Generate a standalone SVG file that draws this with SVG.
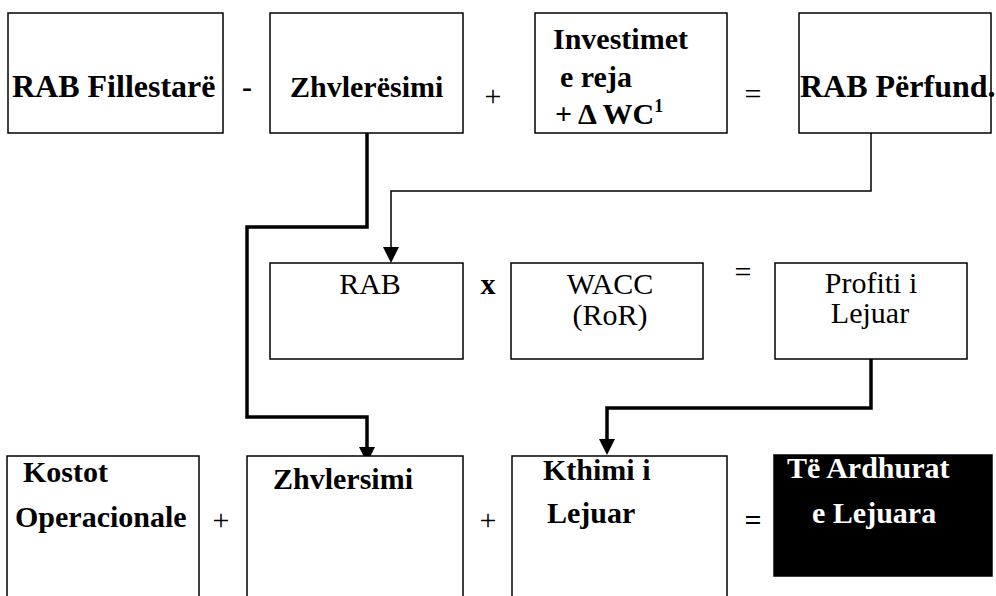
<svg xmlns="http://www.w3.org/2000/svg" width="996" height="596" viewBox="0 0 996 596">
<defs>
<style>
.box{fill:#fff;stroke:#000;stroke-width:1.5}
.blk{fill:#000;stroke:#000;stroke-width:1.5}
.b{font-family:"Liberation Serif","Times New Roman",serif;font-weight:bold;font-size:30px;fill:#000}
.r{font-family:"Liberation Serif","Times New Roman",serif;font-size:30px;fill:#000}
.w{fill:#fff}
.m{text-anchor:middle}
.thick{fill:none;stroke:#000;stroke-width:3.5}
.thin{fill:none;stroke:#000;stroke-width:1.5}
</style>
<marker id="ah" viewBox="0 0 16 16" refX="0" refY="8" markerWidth="16" markerHeight="16" markerUnits="userSpaceOnUse" orient="auto">
<path d="M0,0 L16,8 L0,16 z" fill="#000"/>
</marker>
</defs>

<g id="connectors">
<path class="thick" d="M367,133 V227 H247 V417 H367 V447" marker-end="url(#ah)"/>
<path class="thin" d="M871,133 V191 H391 V247" marker-end="url(#ah)"/>
<path class="thick" d="M871,359 V408 H607 V439" marker-end="url(#ah)"/>
</g>

<g id="rab-fillestare">
<rect class="box" x="8" y="13" width="215" height="120"/>
<text class="b" x="12" y="97" style="font-size:32px">RAB Fillestarë</text>
</g>
<text class="b m" x="247" y="97">-</text>
<g id="zhvleresimi-top">
<rect class="box" x="270" y="13" width="193" height="120"/>
<text class="b" x="290" y="97">Zhvlerësimi</text>
</g>
<text class="r m" x="493" y="106">+</text>
<g id="investimet">
<rect class="box" x="535" y="13" width="192" height="120"/>
<text class="b" x="553" y="49">Investimet</text>
<text class="b" x="560" y="87">e reja</text>
<text class="b" x="555" y="124">+ Δ WC<tspan font-size="18" dy="-12">1</tspan></text>
</g>
<text class="r m" x="753" y="104">=</text>
<g id="rab-perfund">
<rect class="box" x="799" y="13" width="192" height="120"/>
<text class="b" x="800" y="97" style="font-size:32px">RAB Përfund.</text>
</g>

<g id="rab">
<rect class="box" x="270" y="263" width="193" height="96"/>
<text class="r m" x="370" y="294">RAB</text>
</g>
<text class="b m" x="488" y="294">x</text>
<g id="wacc">
<rect class="box" x="511" y="263" width="192" height="96"/>
<text class="r m" x="610" y="294">WACC</text>
<text class="r m" x="610" y="325">(RoR)</text>
</g>
<text class="r m" x="743" y="282">=</text>
<g id="profiti">
<rect class="box" x="775" y="263" width="192" height="96"/>
<text class="r m" x="871" y="293">Profiti i</text>
<text class="r m" x="870" y="323">Lejuar</text>
</g>

<g id="kostot">
<rect class="box" x="7" y="456" width="192" height="150"/>
<text class="b" x="23" y="482">Kostot</text>
<text class="b" x="15" y="527">Operacionale</text>
</g>
<text class="r m" x="221" y="530">+</text>
<g id="zhvlersimi-bottom">
<rect class="box" x="247" y="456" width="216" height="150"/>
<text class="b" x="273" y="489">Zhvlersimi</text>
</g>
<text class="r m" x="488" y="530">+</text>
<g id="kthimi">
<rect class="box" x="512" y="456" width="215" height="150"/>
<text class="b" x="543" y="480">Kthimi i</text>
<text class="b" x="547" y="523">Lejuar</text>
</g>
<text class="b m" x="753" y="530">=</text>
<g id="te-ardhurat">
<rect class="blk" x="774" y="455" width="218" height="121"/>
<text class="b w" x="787" y="478">Të Ardhurat</text>
<text class="b w" x="812" y="523">e Lejuara</text>
</g>
</svg>
